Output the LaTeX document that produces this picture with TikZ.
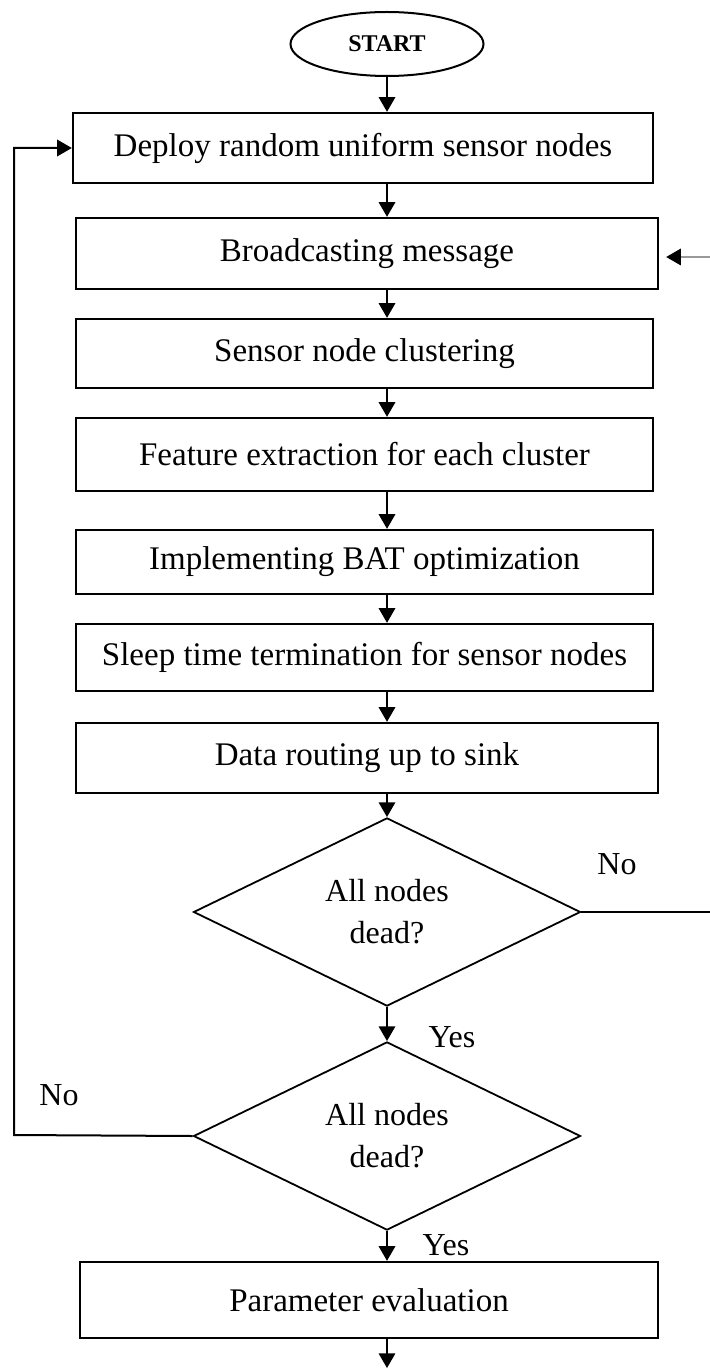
\documentclass[tikz,border=0pt]{standalone}
\usepackage{fontspec}
\setmainfont{Liberation Serif}
\usetikzlibrary{arrows, positioning, shapes}

\begin{document}
\begin{tikzpicture}[x=0.5pt,y=-0.5pt,->,>=triangle 60,line width=1pt,
   proc/.style={draw,rectangle,line width=1.2pt,inner sep=0pt,minimum width=290pt,font=\fontsize{16.5}{21}\selectfont},
   dec/.style={draw,diamond,line width=0.9pt,inner sep=0pt,align=center,minimum width=193.5pt,minimum height=91pt,font=\fontsize{16}{21}\selectfont},
   lbl/.style={inner sep=0pt,font=\fontsize{16}{21}\selectfont}]

   \fill[white] (0,0) rectangle (710,1369);
   \useasboundingbox (0,0) rectangle (710,1369);

   % Nodes
      \node[draw,ellipse,minimum width=96.5pt,minimum height=32pt,inner sep=0pt,font=\bfseries\fontsize{12}{14}\selectfont] (start)  at (387,44)    {START};
      \node[proc,minimum height=35pt]                 (deploy) at (363,148)   {Deploy random uniform sensor nodes};
      \node[proc,minimum height=35.5pt,minimum width=291pt] (bcast)  at (367,253.5) {Broadcasting message};
      \node[proc,minimum height=34.5pt,minimum width=288.5pt] (clust)  at (364.5,353.5) {Sensor node clustering};
      \node[proc,minimum height=36.5pt,minimum width=288.5pt] (feat)   at (364.5,454.5) {Feature extraction for each cluster};
      \node[proc,minimum height=32pt,minimum width=288.5pt]   (bat)    at (364.5,562)   {Implementing BAT optimization};
      \node[proc,minimum height=33.5pt,minimum width=288.5pt] (sleep)  at (364.5,657.5) {Sleep time termination for sensor nodes};
      \node[proc,minimum height=35pt,minimum width=291pt]   (route)  at (367,758)     {Data routing up to sink};
      \node[dec]                                       (dead1)  at (387,912)    {All nodes\\dead?};
      \node[dec,minimum height=94pt]                   (dead2)  at (387,1136)   {All nodes\\dead?};
      \node[proc,minimum height=38pt,minimum width=289pt]   (param)  at (369,1300)    {Parameter evaluation};

      \node[lbl] (no1)  at (617,864)  {No};
      \node[lbl] (yes1) at (452,1037) {Yes};
      \node[lbl] (no2)  at (59,1095)  {No};
      \node[lbl] (yes2) at (446,1245) {Yes};

      \coordinate (rin)  at (710,257);
      \coordinate (loop) at (14,1135);
      \coordinate (fin)  at (387,1368);

   % Paths
      \draw (start.south) -- (start.south |- deploy.north);
      \draw (deploy.south -| start) -- (bcast.north -| start);
      \draw (bcast.south -| start) -- (clust.north -| start);
      \draw (clust.south -| start) -- (feat.north -| start);
      \draw (feat.south -| start) -- (bat.north -| start);
      \draw (bat.south -| start) -- (sleep.north -| start);
      \draw (sleep.south -| start) -- (route.north -| start);
      \draw (route.south -| start) -- (dead1.north);
      \draw (dead1.south) -- (dead2.north);
      \draw (dead2.south) -- (param.north -| start);
      \draw (param.south -| start) -- (fin);
      \draw[-,color=gray!80,line width=1.4pt] (rin) -- ([xshift=8pt]bcast.east |- rin);
      \draw (rin) ++(-42,0) -- ([xshift=3.5pt]bcast.east |- rin);
      \draw[-] (dead1.east) -- (dead1.east -| rin);
      \draw (dead2.west) -- (loop) |- (deploy.west);
\end{tikzpicture}
\end{document}
